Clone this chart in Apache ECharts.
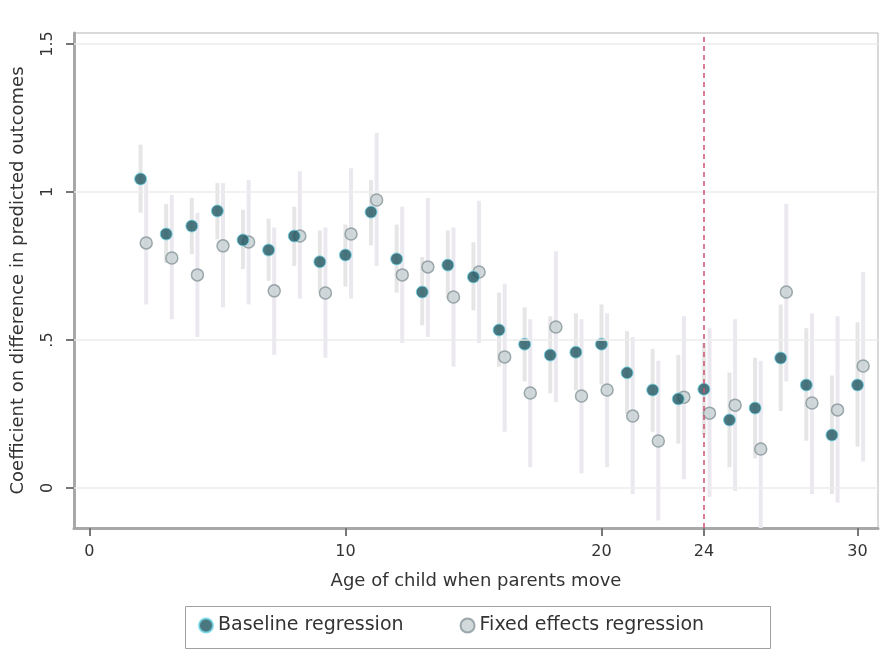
<!DOCTYPE html>
<html>
<head>
<meta charset="utf-8">
<title>Exposure effects by age at move</title>
<script src="https://cdn.jsdelivr.net/npm/echarts@6/dist/echarts.min.js"></script>
<style>
  html, body { margin: 0; padding: 0; background: #ffffff; }
  #chart { width: 885px; height: 662px; }
</style>
</head>
<body>
<div id="chart"></div>
<script>
// Age of child when parents move
var ages = [2, 3, 4, 5, 6, 7, 8, 9, 10, 11, 12, 13, 14, 15, 16, 17, 18, 19, 20, 21, 22, 23, 24, 25, 26, 27, 28, 29, 30];

// Baseline regression: point estimates and 95% CI bounds
var baseCoef = [1.044, 0.858, 0.885, 0.936, 0.838, 0.804, 0.851, 0.764, 0.787, 0.932, 0.774, 0.662, 0.753, 0.713, 0.534, 0.486, 0.449, 0.459, 0.486, 0.389, 0.331, 0.301, 0.334, 0.230, 0.270, 0.439, 0.348, 0.179, 0.348];
var baseLow  = [0.93, 0.76, 0.79, 0.84, 0.74, 0.70, 0.75, 0.66, 0.68, 0.82, 0.66, 0.55, 0.64, 0.60, 0.41, 0.36, 0.32, 0.33, 0.35, 0.25, 0.19, 0.15, 0.18, 0.07, 0.10, 0.26, 0.16, -0.02, 0.14];
var baseHigh = [1.16, 0.96, 0.98, 1.03, 0.94, 0.91, 0.95, 0.87, 0.89, 1.04, 0.89, 0.78, 0.87, 0.83, 0.66, 0.61, 0.58, 0.59, 0.62, 0.53, 0.47, 0.45, 0.49, 0.39, 0.44, 0.62, 0.54, 0.38, 0.56];

// Fixed effects regression: point estimates and 95% CI bounds
var feCoef = [0.828, 0.777, 0.720, 0.818, 0.831, 0.666, 0.851, 0.659, 0.858, 0.973, 0.720, 0.747, 0.645, 0.730, 0.443, 0.321, 0.544, 0.311, 0.331, 0.243, 0.159, 0.307, 0.253, 0.280, 0.132, 0.662, 0.287, 0.264, 0.412];
var feLow  = [0.62, 0.57, 0.51, 0.61, 0.62, 0.45, 0.64, 0.44, 0.64, 0.75, 0.49, 0.51, 0.41, 0.49, 0.19, 0.07, 0.29, 0.05, 0.07, -0.02, -0.11, 0.03, -0.03, -0.01, -0.16, 0.36, -0.02, -0.05, 0.09];
var feHigh = [1.04, 0.99, 0.93, 1.03, 1.04, 0.88, 1.07, 0.88, 1.08, 1.20, 0.95, 0.98, 0.88, 0.97, 0.69, 0.57, 0.80, 0.57, 0.59, 0.51, 0.43, 0.58, 0.54, 0.57, 0.43, 0.96, 0.59, 0.58, 0.73];

// Axis ticks
var xTicks = [0, 10, 20, 24, 30];
var yTicks = [0, 0.5, 1, 1.5];
var cutoffAge = 24;

var FE_SHIFT = 0.22; // small horizontal offset so the two series don't overlap
var FONT = '"DejaVu Sans", "Liberation Sans", sans-serif';

function pairs(xs, ys, shift) {
  return xs.map(function (x, i) { return [x + shift, ys[i]]; });
}
function bars(xs, lo, hi, shift) {
  return xs.map(function (x, i) { return [x + shift, lo[i], hi[i]]; });
}
function ciRenderer(color) {
  return function (params, api) {
    var p0 = api.coord([api.value(0), api.value(1)]);
    var p1 = api.coord([api.value(0), api.value(2)]);
    return {
      type: 'line',
      shape: { x1: p0[0], y1: p0[1], x2: p1[0], y2: p1[1] },
      style: { stroke: color, lineWidth: 4 }
    };
  };
}
function yLabel(v) {
  if (v === 0) return '0';
  if (v === 0.5) return '.5';
  if (v === 1) return '1';
  return '1.5';
}

var chart = echarts.init(document.getElementById('chart'), null, { renderer: 'canvas' });

chart.setOption({
  backgroundColor: '#ffffff',
  animation: false,
  grid: { left: 74, top: 33, right: 7, bottom: 134, show: true, borderColor: '#b4b4b4', borderWidth: 1, backgroundColor: '#ffffff' },
  graphic: [
    {
      type: 'rect',
      left: 185,
      top: 606,
      shape: { width: 585, height: 42 },
      style: { fill: '#ffffff', stroke: '#a0a0a0', lineWidth: 1 },
      z: -1
    }
  ],
  xAxis: {
    type: 'value',
    min: -0.6,
    max: 30.8,
    name: 'Age of child when parents move',
    nameLocation: 'middle',
    nameGap: 44,
    nameTextStyle: { fontFamily: FONT, fontSize: 18, color: '#333333' },
    axisLine: { show: true, onZero: false, lineStyle: { color: '#a8a8a8', width: 3 } },
    axisTick: { show: true, customValues: xTicks, length: 8, inside: false, lineStyle: { color: '#777777', width: 2 } },
    axisLabel: { customValues: xTicks, fontFamily: FONT, fontSize: 16, color: '#333333', margin: 16 },
    splitLine: { show: false }
  },
  yAxis: {
    type: 'value',
    min: -0.135,
    max: 1.537,
    name: 'Coefficient on difference in predicted outcomes',
    nameLocation: 'middle',
    nameGap: 47,
    nameRotate: 90,
    nameTextStyle: { fontFamily: FONT, fontSize: 18, color: '#333333' },
    axisLine: { show: true, onZero: false, lineStyle: { color: '#a8a8a8', width: 3 } },
    axisTick: { show: true, customValues: yTicks, length: 8, lineStyle: { color: '#777777', width: 2 } },
    axisLabel: { customValues: yTicks, rotate: 90, formatter: yLabel, fontFamily: FONT, fontSize: 16, color: '#333333', margin: 18 },
    splitLine: { show: false }
  },
  legend: {
    show: true,
    left: 198,
    top: 616,
    padding: 0,
    itemGap: 56,
    itemWidth: 14,
    itemHeight: 14,
    textStyle: { fontFamily: FONT, fontSize: 19, color: '#333333' },
    data: [
      { name: 'Baseline regression', icon: 'circle' },
      { name: 'Fixed effects regression', icon: 'circle' }
    ]
  },
  series: [
    {
      name: 'Baseline CI',
      type: 'custom',
      renderItem: ciRenderer('#e6e6e6'),
      data: bars(ages, baseLow, baseHigh, 0),
      encode: { x: 0, y: [1, 2] },
      clip: true,
      z: 1,
      silent: true,
      markLine: {
        silent: true,
        symbol: 'none',
        label: { show: false },
        lineStyle: { color: '#ececec', width: 1.5, type: 'solid' },
        data: yTicks.map(function (v) { return { yAxis: v }; })
      }
    },
    {
      name: 'Fixed effects CI',
      type: 'custom',
      renderItem: ciRenderer('#ebe8ef'),
      data: bars(ages, feLow, feHigh, FE_SHIFT),
      encode: { x: 0, y: [1, 2] },
      clip: true,
      z: 1,
      silent: true,
      markLine: {
        silent: true,
        symbol: 'none',
        label: { show: false },
        lineStyle: { color: '#cc5470', width: 1.5, type: [5, 4] },
        data: [{ xAxis: cutoffAge }]
      }
    },
    {
      name: 'Fixed effects regression',
      type: 'scatter',
      data: pairs(ages, feCoef, FE_SHIFT),
      symbol: 'circle',
      symbolSize: 12,
      itemStyle: { color: '#c6cfd2', borderColor: '#86959a', borderWidth: 1.5 },
      z: 3
    },
    {
      name: 'Baseline regression',
      type: 'scatter',
      data: pairs(ages, baseCoef, 0),
      symbol: 'circle',
      symbolSize: 12,
      itemStyle: { color: '#1e5560', borderColor: '#6fd6e6', borderWidth: 1 },
      z: 4
    }
  ]
});
</script>
</body>
</html>
